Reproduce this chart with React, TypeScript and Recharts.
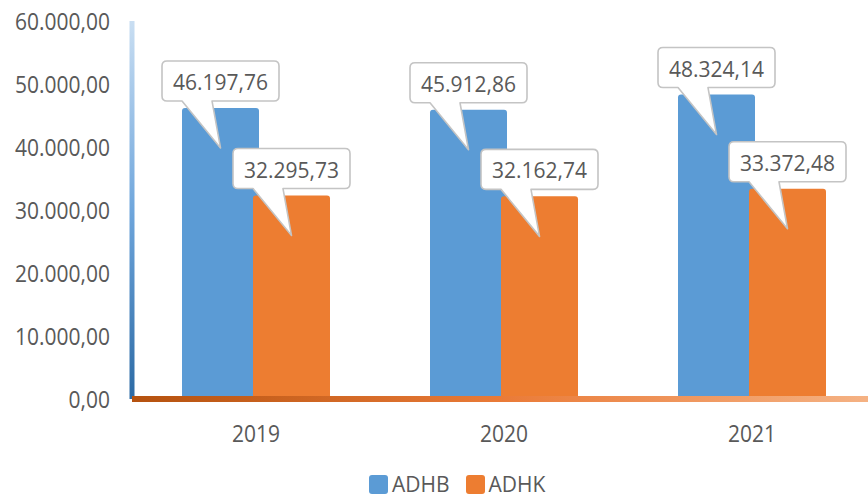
import React from 'react';
import { BarChart, Bar, XAxis, YAxis, Legend, LabelList } from 'recharts';

const years = ['2019', '2020', '2021'];
const adhb = [46197.76, 45912.86, 48324.14];
const adhk = [32295.73, 32162.74, 33372.48];
const yTicks = [0, 10000, 20000, 30000, 40000, 50000, 60000];
const seriesNames = ['ADHB', 'ADHK'];
const seriesColors = ['#5B9BD5', '#ED7D31'];

const data = years.map((y, i) => ({ year: y, ADHB: adhb[i], ADHK: adhk[i] }));

const FONT = '"Open Sans", sans-serif';
const TEXT = '#595959';

const fmt = (v: number) => {
  const fixed = Number(v).toFixed(2);
  const [int, dec] = fixed.split('.');
  return int.replace(/\B(?=(\d{3})+(?!\d))/g, '.') + ',' + dec;
};

const YTick = (props: any) => {
  const { x, y, payload } = props;
  return (
    <g transform={`translate(${x},${y}) scale(1,1.15)`}>
      <text x={0} y={0} textAnchor="end" dominantBaseline="central" fontFamily={FONT} fontSize={21} fill={TEXT}>
        {fmt(payload.value)}
      </text>
    </g>
  );
};

const XTick = (props: any) => {
  const { x, y, payload } = props;
  return (
    <g transform={`translate(${x},${y + 7}) scale(1,1.15)`}>
      <text x={0} y={0} textAnchor="middle" dominantBaseline="central" fontFamily={FONT} fontSize={21} fill={TEXT}>
        {payload.value}
      </text>
    </g>
  );
};

const Callout = (props: any) => {
  const { x, y, width, value } = props;
  const cx = x + width / 2;
  const w = 117;
  const h = 40;
  const r = 5;
  const L = cx - w / 2;
  const R = cx + w / 2;
  const B = y - 7;
  const T = B - h;
  const b1 = L + 20;
  const b2 = L + 50;
  const tipX = cx;
  const tipY = y + 40;
  const d = `M${L + r},${T} H${R - r} Q${R},${T} ${R},${T + r} V${B - r} Q${R},${B} ${R - r},${B} H${b2} L${tipX},${tipY} L${b1},${B} H${L + r} Q${L},${B} ${L},${B - r} V${T + r} Q${L},${T} ${L + r},${T} Z`;
  return (
    <g>
      <path d={d} fill="#FFFFFF" stroke="#C4C4C4" strokeWidth={1.6} strokeLinejoin="round" />
      <text
        x={cx}
        y={T + h / 2 + 1}
        textAnchor="middle"
        dominantBaseline="central"
        fontFamily={FONT}
        fontSize={21}
        fill={TEXT}
      >
        {fmt(value)}
      </text>
    </g>
  );
};

const LegendContent = () => (
  <div style={{ display: 'flex', alignItems: 'center', fontFamily: FONT, fontSize: 21, color: TEXT, height: 26 }}>
    {seriesNames.map((n, i) => (
      <div key={n} style={{ display: 'flex', alignItems: 'center', marginRight: 16 }}>
        <div style={{ width: 19, height: 19, borderRadius: 3, background: seriesColors[i], marginRight: 4 }} />
        <span style={{ lineHeight: '26px' }}>{n}</span>
      </div>
    ))}
  </div>
);

export default function App() {
  return (
    <div style={{ position: 'absolute', left: 0, top: 0, width: 868, height: 498, overflow: 'hidden', background: '#fff' }}>
      <BarChart
        width={880}
        height={498}
        data={data}
        margin={{ top: 21, right: 4, left: 0, bottom: 61 }}
        barSize={77}
        barGap={-6}
      >
        <defs>
          <linearGradient id="yGrad" gradientUnits="userSpaceOnUse" x1="0" y1="21" x2="0" y2="400">
            <stop offset="0" stopColor="#C9DEF2" />
            <stop offset="0.5" stopColor="#6FA6DC" />
            <stop offset="1" stopColor="#2C6AA4" />
          </linearGradient>
          <linearGradient id="xGrad" gradientUnits="userSpaceOnUse" x1="132" y1="0" x2="876" y2="0">
            <stop offset="0" stopColor="#B5520F" />
            <stop offset="0.5" stopColor="#EA7B38" />
            <stop offset="1" stopColor="#F5B385" />
          </linearGradient>
        </defs>
        <YAxis
          width={132}
          domain={[0, 60000]}
          ticks={yTicks}
          tickLine={false}
          tickMargin={16}
          axisLine={{ stroke: 'url(#yGrad)', strokeWidth: 5 }}
          tick={<YTick />}
        />
        <XAxis
          dataKey="year"
          height={38}
          tickLine={false}
          tickMargin={21}
          axisLine={{ stroke: 'url(#xGrad)', strokeWidth: 6 }}
          tick={<XTick />}
        />
        <Bar dataKey="ADHB" fill={seriesColors[0]} radius={[3, 3, 0, 0]} isAnimationActive={false}>
          <LabelList dataKey="ADHB" content={Callout} />
        </Bar>
        <Bar dataKey="ADHK" fill={seriesColors[1]} radius={[3, 3, 0, 0]} isAnimationActive={false}>
          <LabelList dataKey="ADHK" content={Callout} />
        </Bar>
        <Legend
          layout="horizontal"
          verticalAlign="middle"
          align="center"
          content={<LegendContent />}
          wrapperStyle={{ left: 369, top: 471, width: 300, height: 26 }}
        />
      </BarChart>
    </div>
  );
}
